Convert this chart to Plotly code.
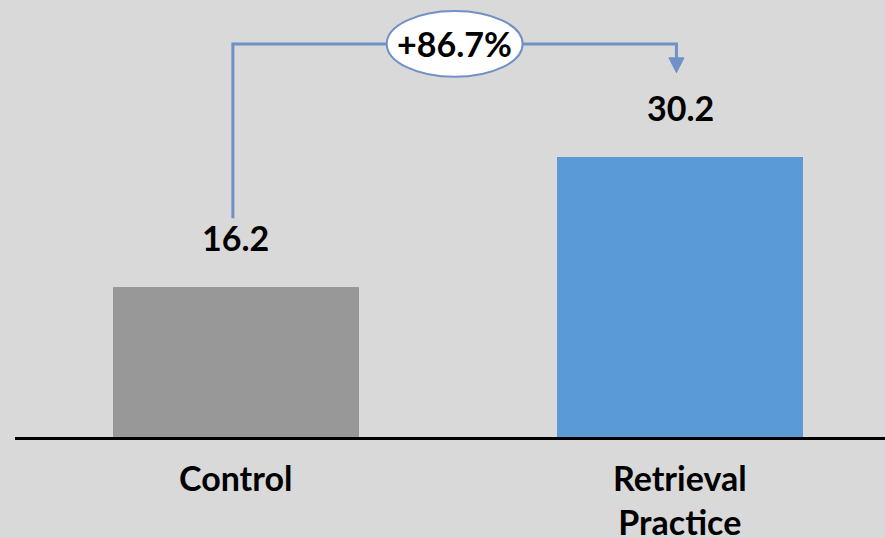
import plotly.graph_objects as go

# Data
categories = ["Control", "Retrieval<br>Practice"]
scores = [16.2, 30.2]
bar_colors = ["#989898", "#5b9bd5"]
change_label = "+86.7%"

BG = "#d9d9d9"
LINE_BLUE = "#6f91c6"
FONT = "Lato"
FS = 34
x_pos = list(range(len(categories)))

fig = go.Figure()
fig.add_trace(go.Bar(
    x=x_pos, y=scores, width=0.554,
    marker=dict(color=bar_colors, line=dict(width=0)),
    hoverinfo="skip", showlegend=False,
))

annotations = []
# value labels above the bars
for xi, v in zip(x_pos, scores):
    annotations.append(dict(
        x=xi, y=v, xref="x", yref="y", text=f"<b>{v:.1f}</b>",
        showarrow=False, yanchor="bottom", yshift=27,
        font=dict(family=FONT, size=FS, color="#000000"),
    ))
# category labels under the baseline
for xi, c in zip(x_pos, categories):
    annotations.append(dict(
        x=xi, y=0, xref="x", yref="y", text=f"<b>{c}</b>",
        showarrow=False, yanchor="top", yshift=-18,
        font=dict(family=FONT, size=FS, color="#000000"),
    ))

# bracket connecting the two bars, with the relative change in an ellipse
x0 = x_pos[0] - 0.007
x1 = x_pos[1] - 0.008
y_start = scores[0] + 7.4
y_top = max(scores) + 12.2
y_head = scores[1] + 10.7
y_tip = scores[1] + 9.1
shapes = [
    dict(type="path", xref="x", yref="y",
         path=f"M {x0},{y_start} L {x0},{y_top} L {x1},{y_top} L {x1},{y_head}",
         line=dict(color=LINE_BLUE, width=3)),
    dict(type="path", xref="x", yref="y",
         path=f"M {x1-0.017},{y_head} L {x1+0.017},{y_head} L {x1},{y_tip} Z",
         fillcolor=LINE_BLUE, line=dict(color=LINE_BLUE, width=1)),
]
xm = (x0 + x1) / 2
shapes.append(dict(type="circle", xref="x", yref="y",
                   x0=xm - 0.153, x1=xm + 0.153,
                   y0=y_top - 3.55, y1=y_top + 3.55,
                   fillcolor="#ffffff", line=dict(color=LINE_BLUE, width=2)))
annotations.append(dict(
    x=xm, y=y_top, xref="x", yref="y", text=f"<b>{change_label}</b>",
    showarrow=False, font=dict(family=FONT, size=FS, color="#000000"),
))

fig.update_layout(
    width=885, height=538,
    margin=dict(l=15, r=0, t=0, b=101, pad=0),
    paper_bgcolor=BG, plot_bgcolor=BG,
    xaxis=dict(range=[-0.4977, 1.4617], showgrid=False, zeroline=False,
               showticklabels=False, ticks="", showline=True,
               linecolor="#000000", linewidth=2.5, fixedrange=True),
    yaxis=dict(range=[0, 47.14], showgrid=False, zeroline=False,
               showticklabels=False, ticks="", showline=False, fixedrange=True),
    shapes=shapes, annotations=annotations, bargap=0,
)

fig.write_html("out.html")
